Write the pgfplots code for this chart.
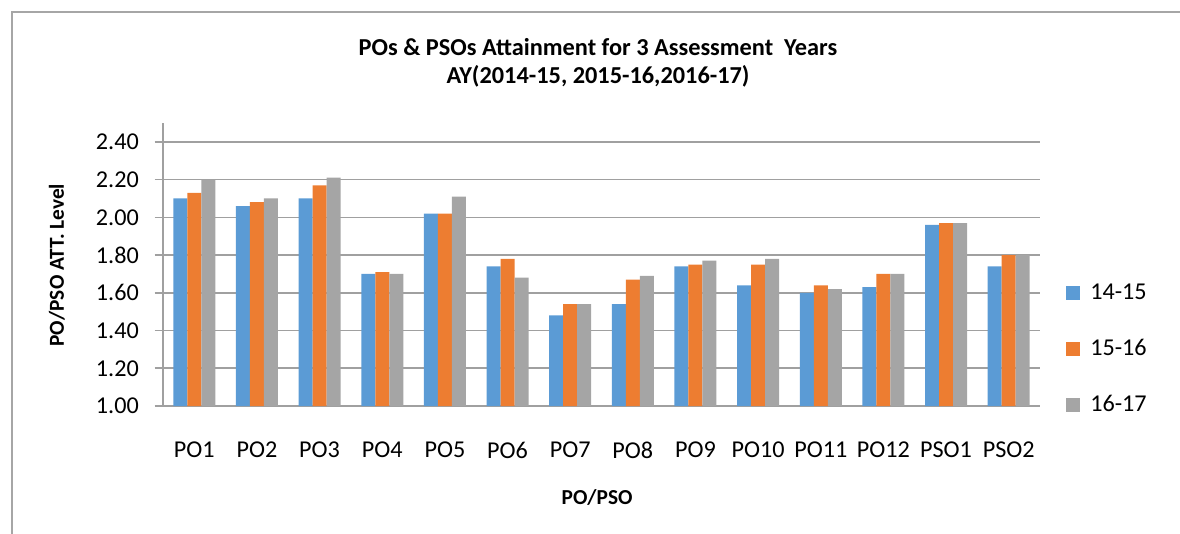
\documentclass[border=0pt]{standalone}
\usepackage{pgfplots}
\pgfplotsset{compat=1.18}
\usepackage{pgfplotstable}
\usepackage{fontspec}
\setmainfont{Carlito}
\definecolor{cblue}{HTML}{5B9BD5}
\definecolor{corange}{HTML}{ED7D31}
\definecolor{cgray}{HTML}{A5A5A5}
\definecolor{gridc}{HTML}{A0A0A0}
\definecolor{framec}{HTML}{A6A6A6}

\pgfplotstableread{
x  a    b    c
0  2.10 2.13 2.20
1  2.06 2.08 2.10
2  2.10 2.17 2.21
3  1.70 1.71 1.70
4  2.02 2.02 2.11
5  1.74 1.78 1.68
6  1.48 1.54 1.54
7  1.54 1.67 1.69
8  1.74 1.75 1.77
9  1.64 1.75 1.78
10 1.60 1.64 1.62
11 1.63 1.70 1.70
12 1.96 1.97 1.97
13 1.74 1.80 1.80
}\datatable

\begin{document}
\begin{tikzpicture}
\useasboundingbox (0,0) rectangle (708pt,319.8pt);
\draw[framec, line width=0.9pt] (7.2pt,-20pt) -- (7.2pt,312.6pt) -- (730pt,312.6pt);
\begin{axis}[
  at={(97.8pt,76.2pt)}, anchor=south west,
  scale only axis, width=526.2pt, height=169.8pt,
  ybar=0pt, bar width=8.4pt,
  xmin=-0.5, xmax=13.5, ymin=1, ymax=2.5,
  axis x line*=bottom, axis y line*=left,
  axis line style={draw=gridc, line width=1pt},
  xtick=data,
  xticklabels={PO1,PO2,PO3,PO4,PO5,PO6,PO7,PO8,PO9,PO10,PO11,PO12,PSO1,PSO2},
  major x tick style={draw=none},
  ytick={1.0,1.2,1.4,1.6,1.8,2.0,2.2,2.4},
  /pgf/number format/fixed, /pgf/number format/fixed zerofill, /pgf/number format/precision=2,
  /pgf/number format/assume math mode=true,
  tick align=outside, major tick length=5pt,
  major y tick style={draw=gridc, line width=1pt},
  ymajorgrids, grid style={draw=gridc, line width=1pt},
  tick label style={font=\fontsize{14.5}{17}\selectfont, text=black},
  xticklabel style={yshift=-13pt},
  yticklabel style={xshift=-6pt},
  title={POs \& PSOs Attainment for 3 Assessment\ \ Years\\AY(2014-15, 2015-16,2016-17)},
  title style={font=\fontsize{14.6}{16.8}\selectfont\bfseries, align=center, at={(axis description cs:0.496,1.178)}, anchor=center},
  xlabel={PO/PSO},
  xlabel style={font=\fontsize{12.8}{15}\selectfont\bfseries, at={(axis description cs:0.495,-0.3216)}, anchor=center},
  ylabel={PO/PSO ATT. Level},
  ylabel style={font=\fontsize{12.8}{15}\selectfont\bfseries, at={(axis description cs:-0.1209,0.498)}, anchor=center, rotate=0},
  legend style={draw=none, fill=none, at={(axis description cs:1.0296,0.2014)}, anchor=west, inner sep=0pt,
    font=\fontsize{14.5}{17}\selectfont, row sep=18.5pt, cells={anchor=west},
    /tikz/every odd column/.append style={column sep=4pt}},
  legend image code/.code={\fill[#1] (0pt,-4.2pt) rectangle (8.4pt,4.2pt);},
]
\addplot[fill=cblue, draw=none] table[x=x, y=a] {\datatable};
\addplot[fill=corange, draw=none] table[x=x, y=b] {\datatable};
\addplot[fill=cgray, draw=none] table[x=x, y=c] {\datatable};
\legend{14-15,15-16,16-17}
\end{axis}
\end{tikzpicture}
\end{document}
